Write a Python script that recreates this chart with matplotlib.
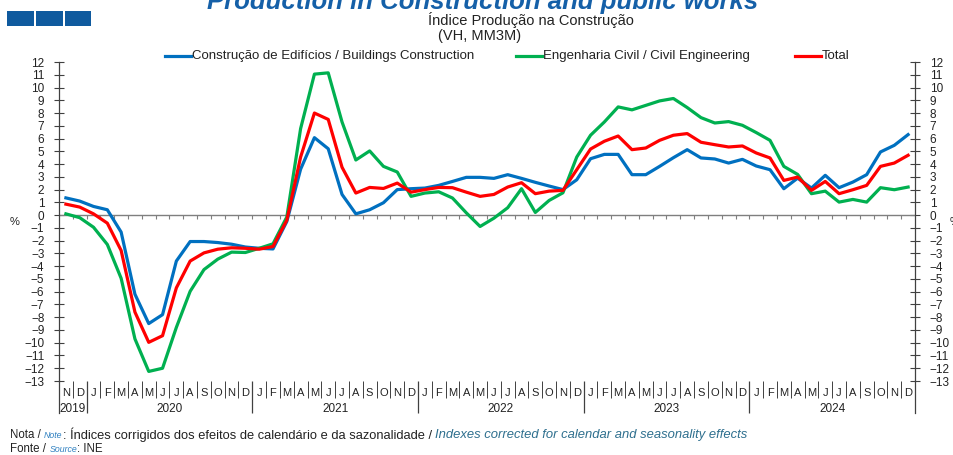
import matplotlib
matplotlib.use("Agg")
import matplotlib.pyplot as plt
from matplotlib.lines import Line2D
from matplotlib.patches import Rectangle

# Índice de Produção na Construção, VH MM3M (%), Nov 2019 - Dec 2024
month_labels = list("ND") + list("JFMAMJJASOND") * 5
year_labels = ["2019", "2020", "2021", "2022", "2023", "2024"]
year_months = [2, 12, 12, 12, 12, 12]

buildings = [1.35, 1.1, 0.68, 0.42, -1.33, -6.2, -8.5, -7.8, -3.6, -2.07, -2.07, -2.15,
             -2.28, -2.5, -2.6, -2.65, -0.5, 3.6, 6.07, 5.2, 1.62, 0.1, 0.42, 0.97,
             2.0, 2.07, 2.12, 2.33, 2.64, 2.96, 2.96, 2.88, 3.17, 2.88, 2.57, 2.28,
             2.0, 2.77, 4.42, 4.76, 4.76, 3.17, 3.17, 3.82, 4.5, 5.13, 4.48, 4.4,
             4.08, 4.37, 3.85, 3.56, 2.07, 2.9, 2.12, 3.12, 2.15, 2.59, 3.17, 4.95,
             5.47, 6.31]
civil_eng = [0.1, -0.2, -0.95, -2.3, -4.95, -9.7, -12.25, -12.0, -8.8, -5.97, -4.27, -3.45,
             -2.9, -2.93, -2.6, -2.25, -0.15, 6.78, 11.05, 11.15, 7.3, 4.32, 5.03, 3.82,
             3.38, 1.47, 1.73, 1.83, 1.34, 0.18, -0.89, -0.24, 0.58, 2.07, 0.21, 1.15,
             1.75, 4.55, 6.26, 7.3, 8.48, 8.25, 8.6, 8.95, 9.14, 8.43, 7.64, 7.22,
             7.33, 7.04, 6.47, 5.86, 3.82, 3.19, 1.68, 1.88, 1.02, 1.23, 1.02, 2.15,
             1.99, 2.2]
total = [0.86, 0.63, 0.1, -0.63, -2.77, -7.6, -9.97, -9.45, -5.7, -3.6, -2.96, -2.67,
         -2.56, -2.6, -2.67, -2.46, -0.4, 4.55, 8.0, 7.5, 3.75, 1.73, 2.17, 2.09,
         2.51, 1.8, 2.0, 2.17, 2.15, 1.8, 1.47, 1.62, 2.2, 2.54, 1.68, 1.88,
         1.94, 3.56, 5.18, 5.79, 6.2, 5.13, 5.26, 5.86, 6.26, 6.39, 5.71, 5.52,
         5.34, 5.42, 4.87, 4.48, 2.72, 2.98, 1.94, 2.64, 1.68, 1.99, 2.33, 3.82,
         4.08, 4.69]

series = [
    ("Construção de Edifícios / Buildings Construction", buildings, "#0070C0"),
    ("Engenharia Civil / Civil Engineering", civil_eng, "#00B050"),
    ("Total", total, "#FF0000"),
]

W, H = 954, 455
plt.rcParams['font.family'] = ['Liberation Sans', 'DejaVu Sans']
AX_COL = "#404040"
TXT_COL = "#222222"


def fx(px):
    return px / W


def fy(py):
    return 1 - py / H


fig = plt.figure(figsize=(W / 100, H / 100), dpi=100)
renderer = fig.canvas.get_renderer()

# plot area: x 59..915 px, y 62 (12) .. 381 (-13)
left, right, top, bottom = 59, 915, 62, 381
ax = fig.add_axes([fx(left), fy(bottom), fx(right - left), (bottom - top) / H])
n = len(month_labels)
x = list(range(n))
ax.set_xlim(-0.5, n - 0.5)
ax.set_ylim(-13, 12)
ax.patch.set_visible(False)

for name, vals, col in series:
    ax.plot(x, vals, color=col, lw=2.3, solid_joinstyle="round", zorder=3)

# zero line with category ticks
ax.axhline(0, color="#7f7f7f", lw=1.0, zorder=2)
bounds = [i - 0.5 for i in range(1, n)]
ax.vlines(bounds, -0.3, 0, color="#7f7f7f", lw=0.8, zorder=2)

for s in ["top", "bottom"]:
    ax.spines[s].set_visible(False)
for s in ["left", "right"]:
    ax.spines[s].set_color(AX_COL)
    ax.spines[s].set_linewidth(0.9)

ax.set_xticks([])
ax.set_yticks(range(-13, 13))
ax.tick_params(axis="y", direction="inout", length=7, width=0.8, color=AX_COL,
               left=True, right=True, labelleft=True, labelright=True,
               labelsize=8.5, labelcolor=TXT_COL, pad=7)

# axis lines extended below the plot, month and year separators
xt = ax.get_xaxis_transform()
ext_month = -17 / (bottom - top)
ext_year = -32 / (bottom - top)
for xa in [0, 1]:
    ax.plot([xa, xa], [0, ext_year], transform=ax.transAxes, color=AX_COL,
            lw=0.9, clip_on=False)

year_starts = []
pos = -0.5
for cnt in year_months:
    year_starts.append(pos)
    pos += cnt
inner_year_bounds = year_starts[1:]
month_bounds = [b for b in bounds if b not in inner_year_bounds]
ax.vlines(month_bounds, ext_month, 0, transform=xt, color=AX_COL, lw=0.7, clip_on=False)
ax.vlines(inner_year_bounds, ext_year, 0, transform=xt, color=AX_COL, lw=0.9, clip_on=False)

for i, m in enumerate(month_labels):
    ax.text(i, -11.5 / (bottom - top), m, transform=xt, ha="center", va="center",
            fontsize=8, color=TXT_COL)
for start, cnt, lab in zip(year_starts, year_months, year_labels):
    ax.text(start + cnt / 2, -28 / (bottom - top), lab, transform=xt, ha="center",
            va="center", fontsize=8.5, color=TXT_COL)

fig.text(fx(15), fy(222), "%", ha="center", va="center", fontsize=8, color=TXT_COL)
fig.text(fx(950), fy(222), "%", ha="left", va="center", fontsize=8, color=TXT_COL)

# header
for x0, x1 in [(7, 34), (36, 63), (65, 91)]:
    fig.add_artist(Rectangle((fx(x0), fy(26)), fx(x1 - x0), 15 / H,
                             transform=fig.transFigure, color="#0F5A9E", lw=0))
fig.text(fx(483), fy(8.5), "Production in Construction and public works", ha="center",
         va="baseline", fontsize=18.5, fontweight="bold", fontstyle="italic", color="#1560A8")
fig.text(fx(531), fy(20), "Índice Produção na Construção", ha="center", va="center",
         fontsize=10.5, color=TXT_COL)
fig.text(fx(480), fy(36), "(VH, MM3M)", ha="center", va="center", fontsize=10.5,
         color=TXT_COL)

# legend
leg_pos = [165, 516, 795]
for (name, vals, col), lx in zip(series, leg_pos):
    fig.add_artist(Line2D([fx(lx), fx(lx + 26)], [fy(56), fy(56)], color=col, lw=2.3))
    fig.text(fx(lx + 27), fy(56), name, ha="left", va="center", fontsize=9.5, color=TXT_COL)


def chain(x_px, y_px, parts):
    xx = fx(x_px)
    for s, kw in parts:
        t = fig.text(xx, fy(y_px), s, va="center", ha="left", **kw)
        bb = t.get_window_extent(renderer)
        xx = bb.x1 / fig.bbox.width


small = dict(fontsize=8.3, color=TXT_COL)
base = dict(fontsize=9.3, color=TXT_COL)
blue_it = dict(fontsize=6.3, color="#2F80C0", fontstyle="italic")
teal_it = dict(fontsize=9.4, color="#2E6F8E", fontstyle="italic")
chain(10, 435, [("Nota / ", small), ("Note", blue_it),
                (": Índices corrigidos dos efeitos de calendário e da sazonalidade / ", base),
                ("Indexes corrected for calendar and seasonality effects", teal_it)])
chain(10, 449, [("Fonte / ", small), ("Source", blue_it), (": INE", small)])

fig.savefig("out.png", dpi=100)
